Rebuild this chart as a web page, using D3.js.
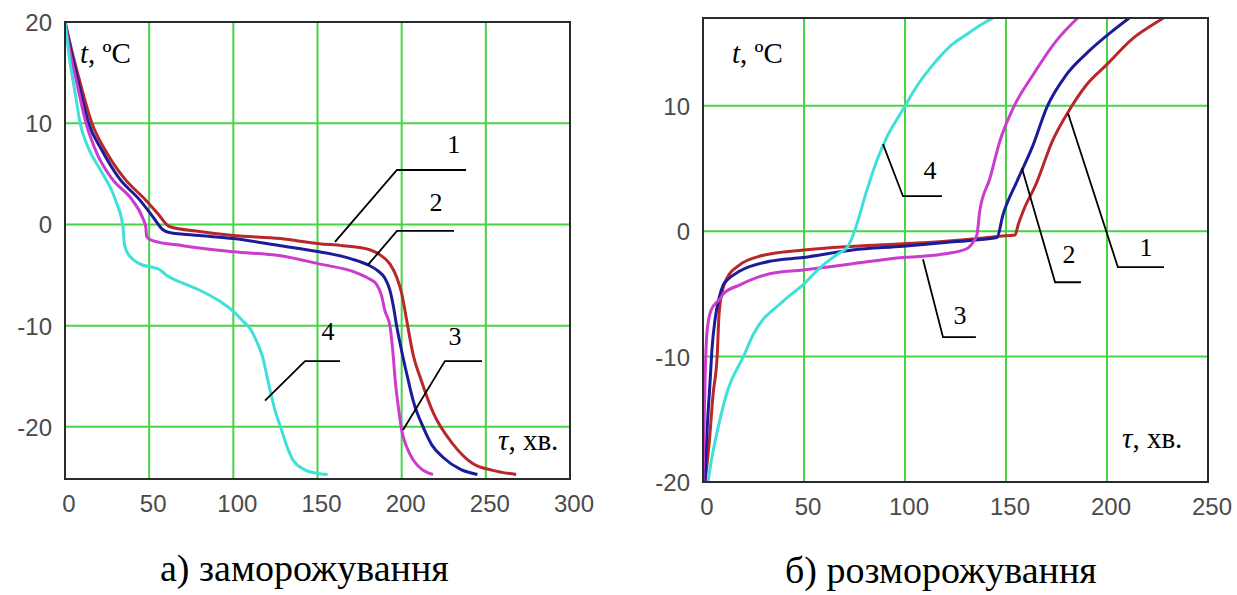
<!DOCTYPE html>
<html>
<head>
<meta charset="utf-8">
<script src="https://cdn.jsdelivr.net/npm/d3@7"></script>
<style>
  html, body { margin: 0; padding: 0; background: #fff; }
  svg { display: block; }
  .tick-label { font-family: "Liberation Sans", Arial, sans-serif; font-size: 24px; fill: #4a4a4a; }
  .serif { font-family: "Liberation Serif", "Times New Roman", serif; fill: #000; }
</style>
</head>
<body>
<svg id="chart" width="1237" height="595"></svg>
<script>
// ---- Freezing (a): time, min vs temperature, °C ----
const freeze1 = [[0,20],[4,17.2],[9,14],[16,10],[24,7.3],[35,4.6],[48,2.4],[55,1.1],[62,-0.2],[80,-0.7],[100,-1.1],[128,-1.4],[151,-1.9],[165,-2.1],[181,-2.5],[188,-3.1],[193,-3.9],[197,-5.2],[200,-6.8],[203,-9.5],[207,-13],[211,-15.1],[219,-18.7],[230,-21.6],[242,-23.6],[254,-24.3],[268,-24.7]];
const freeze2 = [[0,20],[4,16.8],[8,14],[14,10],[22,7.3],[32,4.6],[44.5,2.4],[52,0.8],[58,-0.5],[62,-0.8],[80,-1.1],[100,-1.4],[128,-2.1],[151,-2.7],[170,-3.4],[180,-4],[186,-4.6],[190,-5.3],[193,-6.5],[195,-8],[197,-10],[200,-12.5],[203.5,-15.1],[207,-17.5],[212.7,-20],[218,-21.8],[224.5,-23],[235,-24.2],[245,-24.7]];
const freeze3 = [[0,20],[3,17],[7,14],[12.5,10],[19,7],[28,4.5],[40,2.4],[46,0.7],[48,-0.3],[48.5,-1.2],[52,-1.6],[70,-2.1],[100,-2.7],[128,-3.1],[151,-3.9],[173.5,-4.8],[181,-5.4],[185,-5.9],[188,-7],[190,-8.5],[193,-10],[195,-13],[196,-15.1],[198,-18],[200,-20.3],[203,-22],[207,-23.3],[212,-24.2],[218.6,-24.7]];
const freeze4 = [[0,20],[3,16],[6,13],[9,10],[14,7.5],[21,5.4],[30,2.4],[34.5,-0.3],[35,-1.5],[36,-2.4],[40,-3.4],[44.5,-3.9],[56.5,-4.5],[61,-5.1],[70,-5.8],[80,-6.5],[92,-7.6],[100,-8.6],[106,-9.6],[110,-10.3],[115,-12],[117.6,-13.2],[120,-15],[122,-16.5],[125,-18.5],[128,-20],[132,-22],[135.5,-23.3],[142,-24.2],[150,-24.6],[156,-24.7]];

// ---- Thawing (б) ----
const thaw1 = [[1,-20],[3,-17],[5,-13],[7,-10],[8,-6.5],[10,-4.5],[12,-3.7],[18,-2.7],[28,-2],[50,-1.5],[75,-1.2],[99,-1],[120,-0.8],[135,-0.6],[147,-0.4],[154.5,-0.3],[156,0.5],[158.5,1.6],[165,3.8],[173,7.2],[181.5,9.7],[190,11.7],[200,13.3],[213,15.4],[222,16.4],[228,17]];
const thaw2 = [[1,-20],[2,-16],[3.5,-12],[4.5,-9.3],[6,-7],[8,-5.3],[10,-4.3],[12,-3.9],[18,-3.2],[33,-2.4],[49.5,-2.1],[74,-1.5],[99,-1.2],[120,-0.9],[135,-0.7],[145.5,-0.5],[148.5,1.3],[155.5,4],[163.5,6.9],[170,9.8],[180,12.5],[190,14.2],[203,16],[211,17]];
const thaw3 = [[0,-20],[0.5,-16],[1,-12],[2,-8],[4,-6.3],[8.4,-5.4],[10,-5],[18,-4.3],[33,-3.4],[49.5,-3.1],[74,-2.6],[99,-2.1],[109,-2],[120,-1.8],[130.5,-1.4],[134,-0.8],[135.6,-0.3],[137,1.6],[142,4.2],[147,7.2],[153.5,9.8],[163.5,12.5],[175,15.2],[185.5,17]];
const thaw4 = [[2.5,-20],[3.5,-18.9],[7,-16],[12,-12.8],[20,-10],[25,-8.2],[39.6,-5.6],[50,-4.2],[58,-2.9],[66,-1.9],[71.8,-1.2],[75,0],[81,3.2],[86,5.6],[91,7.5],[99,9.7],[106,11.6],[114,13.3],[122,14.7],[130.6,15.7],[137,16.4],[143.6,17]];

// Tick values
const freezeXTicks = [0, 50, 100, 150, 200, 250, 300];
const freezeYTicks = [20, 10, 0, -10, -20];
const thawXTicks = [0, 50, 100, 150, 200, 250];
const thawYTicks = [10, 0, -10, -20];

// Curve numbers with leader lines: [tip, elbow, shelf end] and number position
const freezeCallouts = [
  { name: "1", pts: [[160.4,-1.73],[197.2,5.38],[238.2,5.38]], at: [231,7.07] },
  { name: "2", pts: [[180,-4.0],[197.2,-0.64],[231.1,-0.64]], at: [220.4,1.33] },
  { name: "3", pts: [[200.8,-20.3],[225.7,-13.5],[247.7,-13.5]], at: [231.7,-11.9] },
  { name: "4", pts: [[118.8,-17.4],[142.6,-13.5],[163.4,-13.5]], at: [156.2,-11.4] }
];
const thawCallouts = [
  { name: "4", pts: [[89.1,6.94],[99,2.79],[118.3,2.79]], at: [112.4,4.15] },
  { name: "3", pts: [[108.9,-2.23],[118.8,-8.45],[135.1,-8.45]], at: [127.2,-7.42] },
  { name: "2", pts: [[157.9,5.02],[174.3,-4.07],[187.1,-4.07]], at: [181.2,-2.55] },
  { name: "1", pts: [[180.7,9.41],[205.4,-2.87],[208.4,-2.87],[228.2,-2.87]], at: [219.3,-1.99] }
];

const seriesColors = ["#b8282a", "#1c1c9a", "#cc3ccc", "#3fe0d8"];

const svg = d3.select("#chart");

function drawPanel(opt) {
  const { left, right, top, bottom, xDomain, yDomain, xTicks, yTicks, series, callouts, clipId, tPos, tauPos } = opt;
  const x = d3.scaleLinear().domain(xDomain).range([left, right]);
  const y = d3.scaleLinear().domain(yDomain).range([bottom, top]);
  const g = svg.append("g");

  g.append("clipPath").attr("id", clipId)
    .append("rect").attr("x", left).attr("y", top)
    .attr("width", right - left).attr("height", bottom - top);

  // grid
  const grid = g.append("g").attr("stroke", "#44d444").attr("stroke-width", 2);
  grid.selectAll("line.v").data(xTicks.filter(d => d > xDomain[0] && d < xDomain[1]))
    .join("line").attr("x1", d => x(d)).attr("x2", d => x(d)).attr("y1", top).attr("y2", bottom);
  grid.selectAll("line.h").data(yTicks.filter(d => d > yDomain[0] && d < yDomain[1]))
    .join("line").attr("y1", d => y(d)).attr("y2", d => y(d)).attr("x1", left).attr("x2", right);

  // tick labels
  g.append("g").selectAll("text").data(xTicks).join("text")
    .attr("class", "tick-label")
    .attr("x", d => x(d) + 4).attr("y", bottom + 33)
    .attr("text-anchor", "middle").text(d => d);
  g.append("g").selectAll("text").data(yTicks).join("text")
    .attr("class", "tick-label")
    .attr("x", left - 13).attr("y", d => y(d) + 9)
    .attr("text-anchor", "end").text(d => d);

  // curves
  const line = d3.line().x(d => x(d[0])).y(d => y(d[1])).curve(d3.curveMonotoneX);
  g.append("g").attr("clip-path", `url(#${clipId})`)
    .selectAll("path").data(series).join("path")
    .attr("d", d => line(d.values))
    .attr("fill", "none").attr("stroke", d => d.color)
    .attr("stroke-width", 3).attr("stroke-linejoin", "round");

  // frame
  g.append("rect").attr("x", left).attr("y", top)
    .attr("width", right - left).attr("height", bottom - top)
    .attr("fill", "none").attr("stroke", "#2a2a2a").attr("stroke-width", 2);

  // callouts
  const lead = d3.line().x(d => x(d[0])).y(d => y(d[1]));
  const cg = g.append("g");
  cg.selectAll("path").data(callouts).join("path")
    .attr("d", d => lead(d.pts)).attr("fill", "none")
    .attr("stroke", "#000").attr("stroke-width", 1.8);
  cg.selectAll("text").data(callouts).join("text")
    .attr("class", "serif").style("font-size", "26px")
    .attr("x", d => x(d.at[0])).attr("y", d => y(d.at[1]))
    .attr("text-anchor", "middle").text(d => d.name);

  // axis titles
  const tt = g.append("text").attr("class", "serif").style("font-size", "29px")
    .attr("x", left + tPos[0]).attr("y", top + tPos[1]);
  tt.append("tspan").style("font-style", "italic").text("t");
  tt.append("tspan").text(", ºC");
  const ta = g.append("text").attr("class", "serif").style("font-size", "29px")
    .attr("x", left + tauPos[0]).attr("y", bottom - tauPos[1]);
  ta.append("tspan").style("font-style", "italic").text("τ");
  ta.append("tspan").text(", хв.");
}

drawPanel({
  left: 65, right: 570, top: 22, bottom: 479,
  xDomain: [0, 300], yDomain: [-25.15, 20],
  xTicks: freezeXTicks, yTicks: freezeYTicks,
  series: [freeze1, freeze2, freeze3, freeze4].map((v, i) => ({ values: v, color: seriesColors[i] })),
  callouts: freezeCallouts, clipId: "clipA",
  tPos: [15, 41], tauPos: [433, 29]
});

drawPanel({
  left: 703, right: 1208, top: 18, bottom: 482,
  xDomain: [0, 250], yDomain: [-20, 17],
  xTicks: thawXTicks, yTicks: thawYTicks,
  series: [thaw1, thaw2, thaw3, thaw4].map((v, i) => ({ values: v, color: seriesColors[i] })),
  callouts: thawCallouts, clipId: "clipB",
  tPos: [29, 45], tauPos: [419, 34]
});

// panel captions
svg.append("text").attr("class", "serif").style("font-size", "38px")
  .attr("x", 160).attr("y", 581).text("а) заморожування");
svg.append("text").attr("class", "serif").style("font-size", "38px")
  .attr("x", 785).attr("y", 583).text("б) розморожування");
</script>
</body>
</html>
